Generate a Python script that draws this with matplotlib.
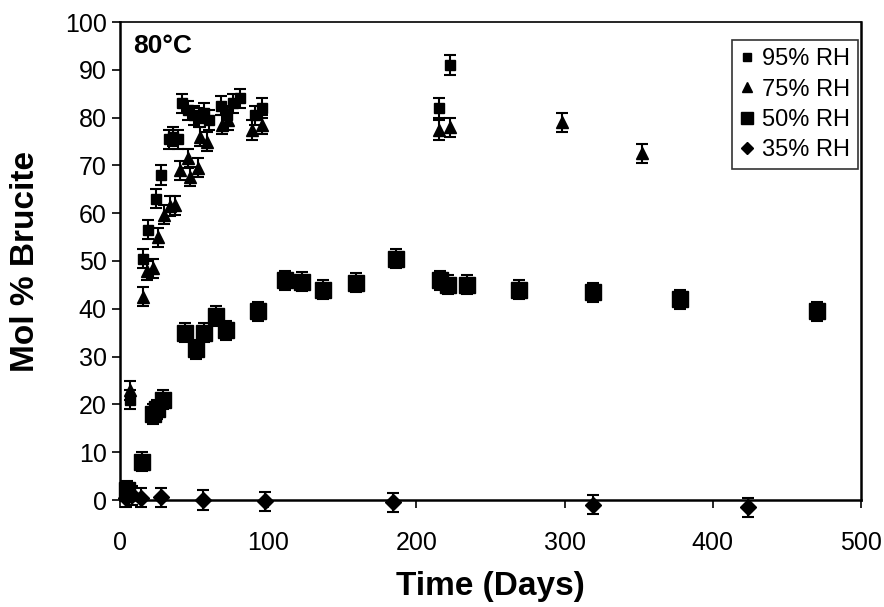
import matplotlib
matplotlib.use("Agg")
import matplotlib.pyplot as plt
from matplotlib.lines import Line2D

plt.rcParams['font.family'] = ['Liberation Sans', 'DejaVu Sans']

# 95% RH
days_95 = [7, 15.5, 19, 24, 27.5, 33, 36, 39, 42, 46, 50, 53, 57, 60, 68, 72, 76, 81, 91, 96, 215, 223]
val_95 = [21, 50.5, 56.5, 63, 68, 75.5, 76, 75.5, 83, 81.5, 80.5, 80, 81, 79.5, 82.5, 80.5, 83, 84, 80.5, 82, 82, 91]
# 75% RH
days_75 = [7, 15.5, 18, 22, 25.5, 30, 34, 37, 40.5, 46, 47, 52.5, 54, 58.5, 69, 73, 89, 96, 215, 223, 298, 352]
val_75 = [23, 42.5, 48, 48.5, 55, 59.7, 61.5, 61.7, 69, 71.5, 67.6, 69.5, 76, 75, 78.5, 79.5, 77.4, 78.5, 77.4, 78, 79, 72.5]
# 50% RH
days_50 = [5, 15, 22, 25, 29, 44, 51, 57, 64.5, 71.5, 93, 111, 123, 137, 159, 186, 216, 221, 234, 269, 319, 378, 470]
val_50 = [2, 8, 18, 19, 21, 35, 31.5, 35, 38.5, 35.5, 39.5, 46, 45.7, 44, 45.5, 50.5, 46, 45, 45, 44, 43.5, 42, 39.5]
# 35% RH
days_35 = [4, 8, 14, 28, 56, 98, 184, 319, 424]
val_35 = [0.5, 1, 0.5, 0.6, 0, -0.3, -0.5, -1, -1.5]

err_95 = 2
err_75 = 2
err_50 = 2
err_35 = 2

series_labels = ['95% RH', '75% RH', '50% RH', '35% RH']
x_ticks = [0, 100, 200, 300, 400, 500]
y_ticks = [0, 10, 20, 30, 40, 50, 60, 70, 80, 90, 100]

fig = plt.figure(figsize=(8.84, 6.07), dpi=100)
ax = fig.add_axes([120/884, 1-500/607, (861-120)/884, (500-22)/607])

common = dict(color='black', ecolor='black', linestyle='none', capsize=4, elinewidth=1.5,
              capthick=1.5, clip_on=False)
c95 = ax.errorbar(days_95, val_95, yerr=err_95, marker='s', markersize=7, **common)
c75 = ax.errorbar(days_75, val_75, yerr=err_75, marker='^', markersize=9, **common)
c50 = ax.errorbar(days_50, val_50, yerr=err_50, marker='s', markersize=11, **common)
c35 = ax.errorbar(days_35, val_35, yerr=err_35, marker='D', markersize=8, **common)
for c in (c95, c75, c50, c35):
    for art in c.get_children():
        art.set_clip_on(False)

ax.set_xlim(0, 500)
ax.set_ylim(0, 100)
ax.set_xticks(x_ticks)
ax.set_yticks(y_ticks)
ax.tick_params(axis='both', direction='out', length=6, width=1.2, labelsize=18, colors='black')
ax.tick_params(axis='x', pad=16)
for sp in ax.spines.values():
    sp.set_linewidth(1.8)
    sp.set_color('black')
ax.spines['top'].set_linewidth(1.2)

ax.set_xlabel('Time (Days)', fontsize=24, fontweight='bold', labelpad=12)
ax.set_ylabel('Mol % Brucite', fontsize=24, fontweight='bold', labelpad=17)

ax.text(0.018, 0.975, '80°C', transform=ax.transAxes, fontsize=19, fontweight='bold',
        ha='left', va='top')

handles = [Line2D([], [], color='black', marker='s', markersize=6, linestyle='none'),
           Line2D([], [], color='black', marker='^', markersize=7, linestyle='none'),
           Line2D([], [], color='black', marker='s', markersize=8, linestyle='none'),
           Line2D([], [], color='black', marker='D', markersize=6, linestyle='none')]
leg = ax.legend(handles, series_labels, loc='upper right', bbox_to_anchor=(0.996, 0.962),
                fontsize=17, frameon=True, fancybox=False, edgecolor='black',
                handlelength=0.6, handletextpad=0.3, labelspacing=0.35, borderpad=0.35,
                borderaxespad=0, numpoints=1)
leg.get_frame().set_linewidth(1.2)

fig.savefig('out.png', dpi=100)
